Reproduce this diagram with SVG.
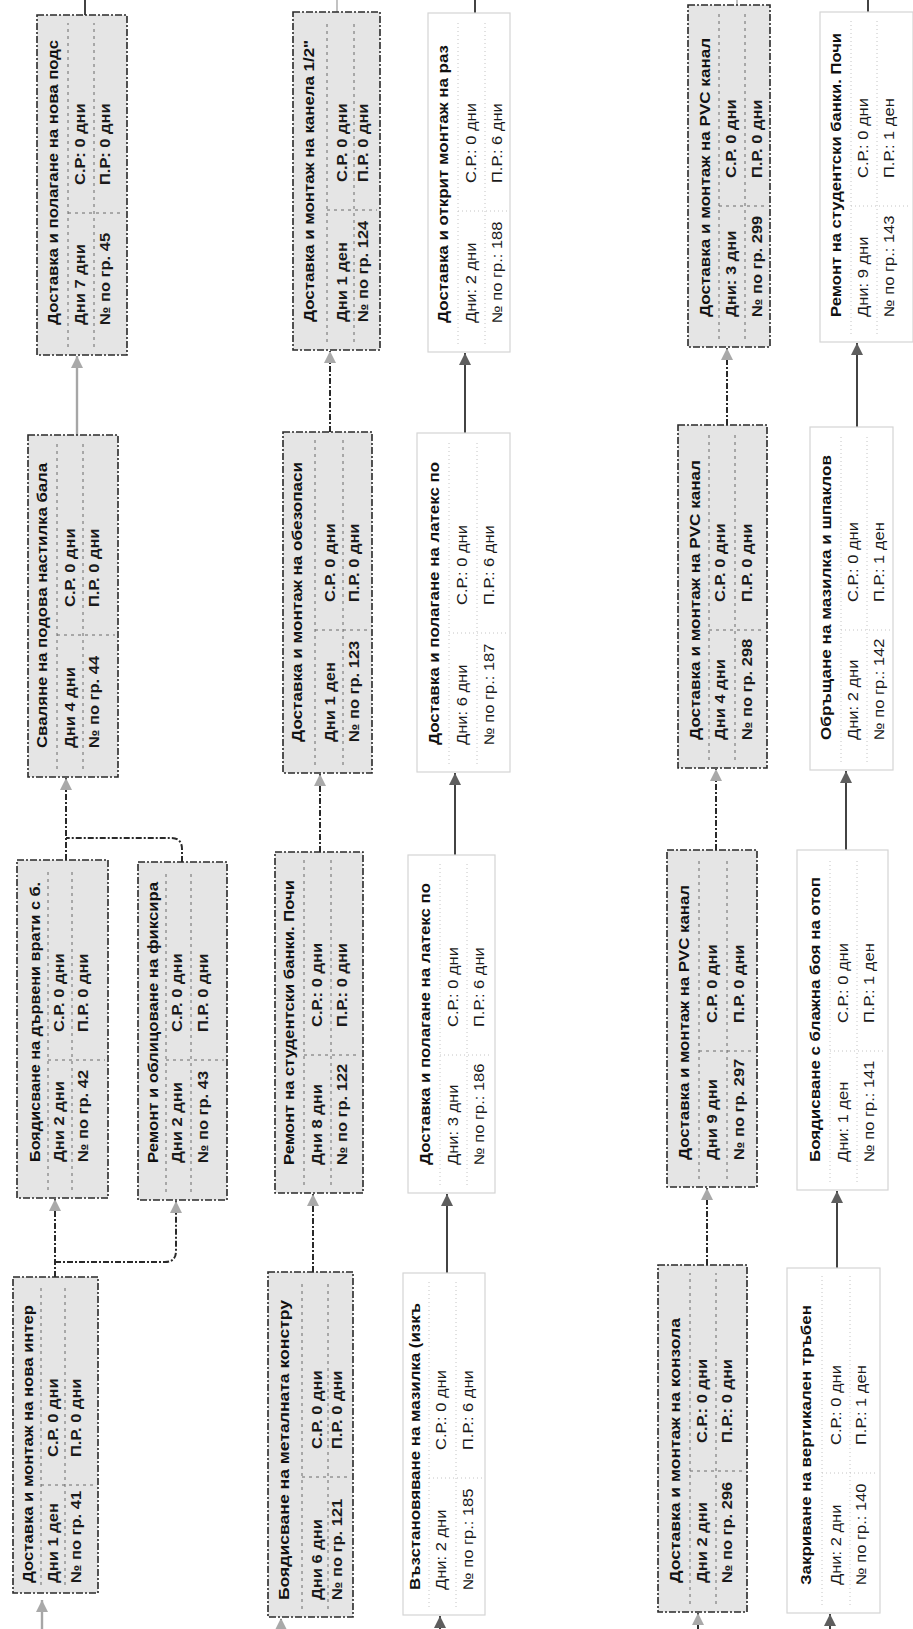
<svg xmlns="http://www.w3.org/2000/svg" width="913" height="1629" viewBox="0 0 913 1629">
<defs>
<style>
.g{fill:#e5e5e5;stroke:#2a2a2a;stroke-width:1.6;stroke-dasharray:7 2 2 2}
.w{fill:#ffffff;stroke:#d4d4d4;stroke-width:1.2}
.gl{fill:none;stroke:#6a6a6a;stroke-width:1;stroke-dasharray:3 4}
.wl{fill:none;stroke:#c4c4c4;stroke-width:1;stroke-dasharray:1 3}
.t{font-family:"Liberation Sans",Arial,sans-serif;font-size:14px;font-weight:bold;fill:#111}
.dg{font-family:"Liberation Sans",Arial,sans-serif;font-size:14px;font-weight:bold;fill:#1a1a1a}
.dw{font-family:"Liberation Sans",Arial,sans-serif;font-size:14px;fill:#1a1a1a}
.cd{fill:none;stroke:#2a2a2a;stroke-width:2;stroke-dasharray:6 2 2 2}
.cs{fill:none;stroke:#2e2e2e;stroke-width:1.8}
.cg{fill:none;stroke:#a6a6a6;stroke-width:2.4}
.cf{fill:none;stroke:#9a9a9a;stroke-width:1.2}
</style>
<marker id="al" viewBox="0 0 10 10" refX="10" refY="5" markerWidth="13" markerHeight="12" markerUnits="userSpaceOnUse" orient="auto"><path d="M0,0 L10,5 L0,10 z" fill="#a9a9a9"/></marker>
<marker id="ad" viewBox="0 0 10 10" refX="10" refY="5" markerWidth="13" markerHeight="12" markerUnits="userSpaceOnUse" orient="auto"><path d="M0,0 L10,5 L0,10 z" fill="#5e5e5e"/></marker>
</defs>
<rect width="913" height="1629" fill="#ffffff"/>

<g id="connectors">
<path class="cg" d="M42,1629 V1600" marker-end="url(#al)"/>
<path class="cd" d="M55,1277 V1199" marker-end="url(#al)"/>
<path class="cd" d="M55,1262 H165 Q176,1262 176,1251 V1201" marker-end="url(#al)"/>
<path class="cd" d="M66,860 V778" marker-end="url(#al)"/>
<path class="cd" d="M182,862 V849 Q182,838 171,838 H66"/>
<path class="cg" d="M77,435 V356" marker-end="url(#al)"/>
<path class="cs" d="M85,15 V0"/>

<path class="cd" d="M281,1629 V1618" marker-end="url(#al)"/>
<path class="cd" d="M313,1272 V1194" marker-end="url(#al)"/>
<path class="cd" d="M320,852 V774" marker-end="url(#al)"/>
<path class="cd" d="M330,432 V351" marker-end="url(#al)"/>
<path class="cf" d="M337,12 V0"/>

<path class="cs" d="M440,1629 V1616" marker-end="url(#ad)"/>
<path class="cs" d="M447,1273 V1194" marker-end="url(#ad)"/>
<path class="cs" d="M455,855 V773" marker-end="url(#ad)"/>
<path class="cs" d="M465,433 V353" marker-end="url(#ad)"/>
<path class="cs" d="M475,13 V0"/>

<path class="cd" d="M698,1629 V1613" marker-end="url(#al)"/>
<path class="cd" d="M707,1265 V1188" marker-end="url(#al)"/>
<path class="cd" d="M716,850 V769" marker-end="url(#al)"/>
<path class="cd" d="M727,425 V348" marker-end="url(#al)"/>
<path class="cf" d="M737,5 V0"/>

<path class="cs" d="M830,1629 V1614" marker-end="url(#ad)"/>
<path class="cs" d="M837,1268 V1191" marker-end="url(#ad)"/>
<path class="cs" d="M846,850 V771" marker-end="url(#ad)"/>
<path class="cs" d="M857,427 V343" marker-end="url(#ad)"/>
<path class="cs" d="M868,12 V0"/>
</g>

<g id="n41">
<rect class="g" x="13" y="1277" width="85" height="316"/>
<path class="gl" d="M41,1585V1285M65,1585V1285M41,1485H95"/>
<text class="t" transform="translate(33,1583) rotate(-90)" textLength="278" lengthAdjust="spacingAndGlyphs">Доставка и монтаж на нова интер</text>
<text class="dg" transform="translate(58,1583) rotate(-90) scale(1.18,1)">Дни 1 ден</text>
<text class="dg" transform="translate(58,1457) rotate(-90) scale(1.18,1)">С.Р. 0 дни</text>
<text class="dg" transform="translate(81,1583) rotate(-90) scale(1.18,1)">№ по гр. 41</text>
<text class="dg" transform="translate(81,1457) rotate(-90) scale(1.18,1)">П.Р. 0 дни</text>
</g>

<g id="n42">
<rect class="g" x="17" y="860" width="91" height="338"/>
<path class="gl" d="M48,1190V868M72,1190V868M48,1060H105"/>
<text class="t" transform="translate(40,1162) rotate(-90)" textLength="280" lengthAdjust="spacingAndGlyphs">Боядисване на дървени врати с б.</text>
<text class="dg" transform="translate(64,1162) rotate(-90) scale(1.18,1)">Дни 2 дни</text>
<text class="dg" transform="translate(64,1032) rotate(-90) scale(1.18,1)">С.Р. 0 дни</text>
<text class="dg" transform="translate(88,1162) rotate(-90) scale(1.18,1)">№ по гр. 42</text>
<text class="dg" transform="translate(88,1032) rotate(-90) scale(1.18,1)">П.Р. 0 дни</text>
</g>

<g id="n43">
<rect class="g" x="138" y="862" width="89" height="338"/>
<path class="gl" d="M166,1192V870M191,1192V870M166,1060H224"/>
<text class="t" transform="translate(158,1163) rotate(-90)" textLength="281" lengthAdjust="spacingAndGlyphs">Ремонт и облицоване на фиксира</text>
<text class="dg" transform="translate(182,1163) rotate(-90) scale(1.18,1)">Дни 2 дни</text>
<text class="dg" transform="translate(182,1032) rotate(-90) scale(1.18,1)">С.Р. 0 дни</text>
<text class="dg" transform="translate(208,1163) rotate(-90) scale(1.18,1)">№ по гр. 43</text>
<text class="dg" transform="translate(208,1032) rotate(-90) scale(1.18,1)">П.Р. 0 дни</text>
</g>

<g id="n44">
<rect class="g" x="28" y="435" width="90" height="342"/>
<path class="gl" d="M57,769V443M83,769V443M57,635H115"/>
<text class="t" transform="translate(47,748) rotate(-90)" textLength="285" lengthAdjust="spacingAndGlyphs">Сваляне на подова настилка бала</text>
<text class="dg" transform="translate(75,748) rotate(-90) scale(1.18,1)">Дни 4 дни</text>
<text class="dg" transform="translate(75,607) rotate(-90) scale(1.18,1)">С.Р. 0 дни</text>
<text class="dg" transform="translate(99,748) rotate(-90) scale(1.18,1)">№ по гр. 44</text>
<text class="dg" transform="translate(99,607) rotate(-90) scale(1.18,1)">П.Р. 0 дни</text>
</g>

<g id="n45">
<rect class="g" x="37" y="15" width="90" height="340"/>
<path class="gl" d="M68,347V23M94,347V23M68,213H124"/>
<text class="t" transform="translate(58,325) rotate(-90)" textLength="285" lengthAdjust="spacingAndGlyphs">Доставка и полагане на нова подс</text>
<text class="dg" transform="translate(85,325) rotate(-90) scale(1.18,1)">Дни 7 дни</text>
<text class="dg" transform="translate(85,185) rotate(-90) scale(1.18,1)">С.Р: 0 дни</text>
<text class="dg" transform="translate(110,325) rotate(-90) scale(1.18,1)">№ по гр. 45</text>
<text class="dg" transform="translate(110,185) rotate(-90) scale(1.18,1)">П.Р: 0 дни</text>
</g>

<g id="n121">
<rect class="g" x="268" y="1272" width="85" height="345"/>
<path class="gl" d="M302,1609V1280M328,1609V1280M302,1477H350"/>
<text class="t" transform="translate(289,1600) rotate(-90)" textLength="300" lengthAdjust="spacingAndGlyphs">Боядисване на металната констру</text>
<text class="dg" transform="translate(322,1600) rotate(-90) scale(1.18,1)">Дни 6 дни</text>
<text class="dg" transform="translate(322,1449) rotate(-90) scale(1.18,1)">С.Р. 0 дни</text>
<text class="dg" transform="translate(342,1600) rotate(-90) scale(1.18,1)">№ по гр. 121</text>
<text class="dg" transform="translate(342,1449) rotate(-90) scale(1.18,1)">П.Р. 0 дни</text>
</g>

<g id="n122">
<rect class="g" x="275" y="852" width="88" height="341"/>
<path class="gl" d="M304,1185V860M331,1185V860M304,1055H360"/>
<text class="t" transform="translate(294,1165) rotate(-90)" textLength="285" lengthAdjust="spacingAndGlyphs">Ремонт на студентски банки. Почи</text>
<text class="dg" transform="translate(322,1165) rotate(-90) scale(1.18,1)">Дни 8 дни</text>
<text class="dg" transform="translate(322,1027) rotate(-90) scale(1.18,1)">С.Р.: 0 дни</text>
<text class="dg" transform="translate(347,1165) rotate(-90) scale(1.18,1)">№ по гр. 122</text>
<text class="dg" transform="translate(347,1027) rotate(-90) scale(1.18,1)">П.Р.: 0 дни</text>
</g>

<g id="n123">
<rect class="g" x="283" y="432" width="89" height="341"/>
<path class="gl" d="M315,765V440M343,765V440M315,630H369"/>
<text class="t" transform="translate(302,742) rotate(-90)" textLength="280" lengthAdjust="spacingAndGlyphs">Доставка и монтаж на обезопаси</text>
<text class="dg" transform="translate(335,742) rotate(-90) scale(1.18,1)">Дни 1 ден</text>
<text class="dg" transform="translate(335,602) rotate(-90) scale(1.18,1)">С.Р. 0 дни</text>
<text class="dg" transform="translate(359,742) rotate(-90) scale(1.18,1)">№ по гр. 123</text>
<text class="dg" transform="translate(359,602) rotate(-90) scale(1.18,1)">П.Р. 0 дни</text>
</g>

<g id="n124">
<rect class="g" x="293" y="12" width="87" height="338"/>
<path class="gl" d="M327,342V20M354,342V20M327,210H377"/>
<text class="t" transform="translate(314,322) rotate(-90)" textLength="282" lengthAdjust="spacingAndGlyphs">Доставка и монтаж на канела 1/2"</text>
<text class="dg" transform="translate(347,322) rotate(-90) scale(1.18,1)">Дни 1 ден</text>
<text class="dg" transform="translate(347,182) rotate(-90) scale(1.18,1)">С.Р. 0 дни</text>
<text class="dg" transform="translate(368,322) rotate(-90) scale(1.18,1)">№ по гр. 124</text>
<text class="dg" transform="translate(368,182) rotate(-90) scale(1.18,1)">П.Р. 0 дни</text>
</g>

<g id="n185">
<rect class="w" x="403" y="1273" width="82" height="342"/>
<path class="wl" d="M429,1607V1281M456,1607V1281M429,1478H482"/>
<text class="t" transform="translate(420,1590) rotate(-90)" textLength="287" lengthAdjust="spacingAndGlyphs">Възстановяване на мазилка (изкъ</text>
<text class="dw" transform="translate(446,1590) rotate(-90) scale(1.18,1)">Дни: 2 дни</text>
<text class="dw" transform="translate(446,1450) rotate(-90) scale(1.18,1)">С.Р.: 0 дни</text>
<text class="dw" transform="translate(473,1590) rotate(-90) scale(1.18,1)">№ по гр.: 185</text>
<text class="dw" transform="translate(473,1450) rotate(-90) scale(1.18,1)">П.Р.: 6 дни</text>
</g>

<g id="n186">
<rect class="w" x="408" y="855" width="87" height="338"/>
<path class="wl" d="M440,1185V863M467,1185V863M440,1055H492"/>
<text class="t" transform="translate(430,1165) rotate(-90)" textLength="282" lengthAdjust="spacingAndGlyphs">Доставка и полагане на латекс по</text>
<text class="dw" transform="translate(458,1165) rotate(-90) scale(1.18,1)">Дни: 3 дни</text>
<text class="dw" transform="translate(458,1027) rotate(-90) scale(1.18,1)">С.Р.: 0 дни</text>
<text class="dw" transform="translate(484,1165) rotate(-90) scale(1.18,1)">№ по гр.: 186</text>
<text class="dw" transform="translate(484,1027) rotate(-90) scale(1.18,1)">П.Р.: 6 дни</text>
</g>

<g id="n187">
<rect class="w" x="417" y="433" width="93" height="339"/>
<path class="wl" d="M449,764V441M477,764V441M449,633H507"/>
<text class="t" transform="translate(439,745) rotate(-90)" textLength="283" lengthAdjust="spacingAndGlyphs">Доставка и полагане на латекс по</text>
<text class="dw" transform="translate(467,745) rotate(-90) scale(1.18,1)">Дни: 6 дни</text>
<text class="dw" transform="translate(467,605) rotate(-90) scale(1.18,1)">С.Р.: 0 дни</text>
<text class="dw" transform="translate(494,745) rotate(-90) scale(1.18,1)">№ по гр.: 187</text>
<text class="dw" transform="translate(494,605) rotate(-90) scale(1.18,1)">П.Р.: 6 дни</text>
</g>

<g id="n188">
<rect class="w" x="428" y="13" width="82" height="339"/>
<path class="wl" d="M458,344V21M485,344V21M458,211H507"/>
<text class="t" transform="translate(448,323) rotate(-90)" textLength="278" lengthAdjust="spacingAndGlyphs">Доставка и открит монтаж на раз</text>
<text class="dw" transform="translate(476,323) rotate(-90) scale(1.18,1)">Дни: 2 дни</text>
<text class="dw" transform="translate(476,183) rotate(-90) scale(1.18,1)">С.Р.: 0 дни</text>
<text class="dw" transform="translate(502,323) rotate(-90) scale(1.18,1)">№ по гр.: 188</text>
<text class="dw" transform="translate(502,183) rotate(-90) scale(1.18,1)">П.Р.: 6 дни</text>
</g>

<g id="n296">
<rect class="g" x="658" y="1265" width="89" height="347"/>
<path class="gl" d="M690,1604V1273M716,1604V1273M690,1471H744"/>
<text class="t" transform="translate(680,1583) rotate(-90)" textLength="265" lengthAdjust="spacingAndGlyphs">Доставка и монтаж на конзола</text>
<text class="dg" transform="translate(707,1583) rotate(-90) scale(1.18,1)">Дни 2 дни</text>
<text class="dg" transform="translate(707,1443) rotate(-90) scale(1.18,1)">С.Р.: 0 дни</text>
<text class="dg" transform="translate(732,1583) rotate(-90) scale(1.18,1)">№ по гр. 296</text>
<text class="dg" transform="translate(732,1443) rotate(-90) scale(1.18,1)">П.Р.: 0 дни</text>
</g>

<g id="n297">
<rect class="g" x="667" y="850" width="90" height="337"/>
<path class="gl" d="M699,1179V858M727,1179V858M699,1051H754"/>
<text class="t" transform="translate(689,1160) rotate(-90)" textLength="275" lengthAdjust="spacingAndGlyphs">Доставка и монтаж на PVC канал</text>
<text class="dg" transform="translate(717,1160) rotate(-90) scale(1.18,1)">Дни 9 дни</text>
<text class="dg" transform="translate(717,1023) rotate(-90) scale(1.18,1)">С.Р. 0 дни</text>
<text class="dg" transform="translate(744,1160) rotate(-90) scale(1.18,1)">№ по гр. 297</text>
<text class="dg" transform="translate(744,1023) rotate(-90) scale(1.18,1)">П.Р. 0 дни</text>
</g>

<g id="n298">
<rect class="g" x="678" y="425" width="89" height="343"/>
<path class="gl" d="M709,760V433M735,760V433M709,630H764"/>
<text class="t" transform="translate(700,740) rotate(-90)" textLength="280" lengthAdjust="spacingAndGlyphs">Доставка и монтаж на PVC канал</text>
<text class="dg" transform="translate(725,740) rotate(-90) scale(1.18,1)">Дни 4 дни</text>
<text class="dg" transform="translate(725,602) rotate(-90) scale(1.18,1)">С.Р. 0 дни</text>
<text class="dg" transform="translate(752,740) rotate(-90) scale(1.18,1)">№ по гр. 298</text>
<text class="dg" transform="translate(752,602) rotate(-90) scale(1.18,1)">П.Р. 0 дни</text>
</g>

<g id="n299">
<rect class="g" x="688" y="5" width="82" height="342"/>
<path class="gl" d="M719,339V13M745,339V13M719,206H767"/>
<text class="t" transform="translate(710,317) rotate(-90)" textLength="279" lengthAdjust="spacingAndGlyphs">Доставка и монтаж на PVC канал</text>
<text class="dg" transform="translate(736,317) rotate(-90) scale(1.18,1)">Дни: 3 дни</text>
<text class="dg" transform="translate(736,178) rotate(-90) scale(1.18,1)">С.Р. 0 дни</text>
<text class="dg" transform="translate(762,317) rotate(-90) scale(1.18,1)">№ по гр. 299</text>
<text class="dg" transform="translate(762,178) rotate(-90) scale(1.18,1)">П.Р. 0 дни</text>
</g>

<g id="n140">
<rect class="w" x="787" y="1268" width="93" height="345"/>
<path class="wl" d="M822,1605V1276M850,1605V1276M822,1473H877"/>
<text class="t" transform="translate(811,1585) rotate(-90)" textLength="280" lengthAdjust="spacingAndGlyphs">Закриване на вертикален тръбен</text>
<text class="dw" transform="translate(841,1585) rotate(-90) scale(1.18,1)">Дни: 2 дни</text>
<text class="dw" transform="translate(841,1445) rotate(-90) scale(1.18,1)">С.Р.: 0 дни</text>
<text class="dw" transform="translate(866,1585) rotate(-90) scale(1.18,1)">№ по гр.: 140</text>
<text class="dw" transform="translate(866,1445) rotate(-90) scale(1.18,1)">П.Р.: 1 ден</text>
</g>

<g id="n141">
<rect class="w" x="797" y="850" width="91" height="340"/>
<path class="wl" d="M830,1182V858M857,1182V858M830,1051H885"/>
<text class="t" transform="translate(820,1162) rotate(-90)" textLength="285" lengthAdjust="spacingAndGlyphs">Боядисване с блажна боя на отоп</text>
<text class="dw" transform="translate(848,1162) rotate(-90) scale(1.18,1)">Дни: 1 ден</text>
<text class="dw" transform="translate(848,1023) rotate(-90) scale(1.18,1)">С.Р.: 0 дни</text>
<text class="dw" transform="translate(874,1162) rotate(-90) scale(1.18,1)">№ по гр.: 141</text>
<text class="dw" transform="translate(874,1023) rotate(-90) scale(1.18,1)">П.Р.: 1 ден</text>
</g>

<g id="n142">
<rect class="w" x="810" y="427" width="83" height="343"/>
<path class="wl" d="M841,762V435M867,762V435M841,630H890"/>
<text class="t" transform="translate(831,740) rotate(-90)" textLength="285" lengthAdjust="spacingAndGlyphs">Обръщане на мазилка и шпаклов</text>
<text class="dw" transform="translate(858,740) rotate(-90) scale(1.18,1)">Дни: 2 дни</text>
<text class="dw" transform="translate(858,602) rotate(-90) scale(1.18,1)">С.Р.: 0 дни</text>
<text class="dw" transform="translate(884,740) rotate(-90) scale(1.18,1)">№ по гр.: 142</text>
<text class="dw" transform="translate(884,602) rotate(-90) scale(1.18,1)">П.Р.: 1 ден</text>
</g>

<g id="n143">
<rect class="w" x="820" y="12" width="93" height="330"/>
<path class="wl" d="M851,334V20M877,334V20M851,206H910"/>
<text class="t" transform="translate(841,317) rotate(-90)" textLength="284" lengthAdjust="spacingAndGlyphs">Ремонт на студентски банки. Почи</text>
<text class="dw" transform="translate(868,317) rotate(-90) scale(1.18,1)">Дни: 9 дни</text>
<text class="dw" transform="translate(868,178) rotate(-90) scale(1.18,1)">С.Р.: 0 дни</text>
<text class="dw" transform="translate(894,317) rotate(-90) scale(1.18,1)">№ по гр.: 143</text>
<text class="dw" transform="translate(894,178) rotate(-90) scale(1.18,1)">П.Р.: 1 ден</text>
</g>
</svg>
